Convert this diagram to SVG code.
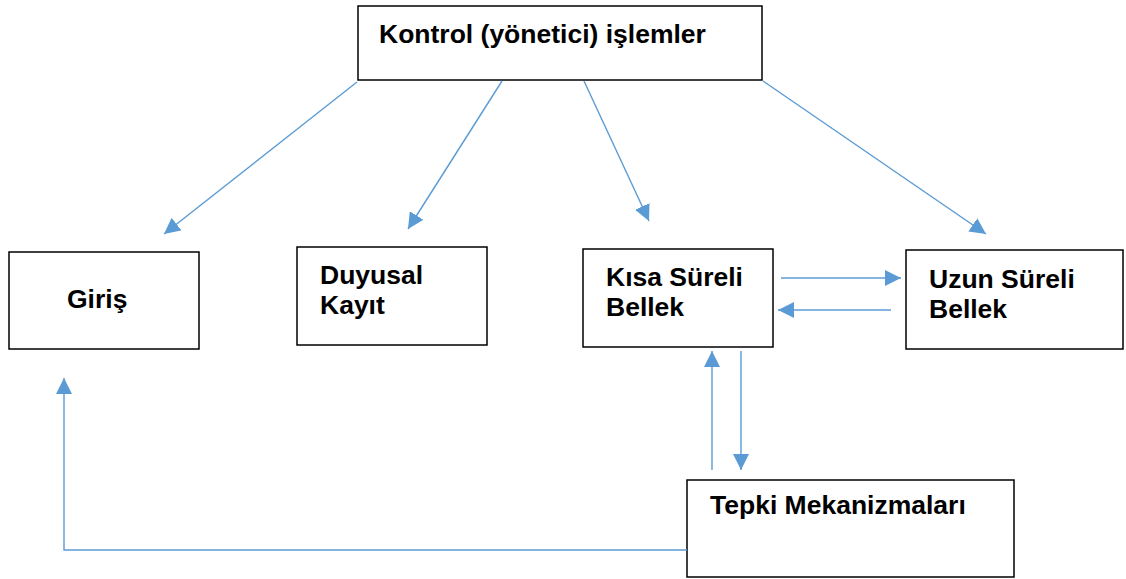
<svg xmlns="http://www.w3.org/2000/svg" width="1126" height="579" viewBox="0 0 1126 579">
<style>
.box{fill:#fff;stroke:#000;stroke-width:1.5}
.t{font-family:"Liberation Sans",Arial,sans-serif;font-weight:bold;font-size:26.5px;fill:#000}
.c{fill:none;stroke:#5B9BD5;stroke-width:1.4}
</style>
<defs>
<marker id="ah" markerUnits="userSpaceOnUse" markerWidth="16" markerHeight="16" viewBox="0 0 16 16" refX="16" refY="8" orient="auto">
<path d="M0,0 L16,8 L0,16 Z" fill="#5B9BD5"/>
</marker>
</defs>
<rect width="1126" height="579" fill="#fff"/>
<g id="kontrol"><rect class="box" x="358" y="6" width="404" height="74"/><text class="t" x="379" y="43">Kontrol (yönetici) işlemler</text></g>
<g id="giris"><rect class="box" x="9" y="252" width="190" height="97"/><text class="t" x="67" y="308">Giriş</text></g>
<g id="duyusal"><rect class="box" x="297" y="247" width="190" height="98"/><text class="t" x="320" y="284">Duyusal</text><text class="t" x="320" y="314">Kayıt</text></g>
<g id="kisa"><rect class="box" x="583" y="249" width="190" height="98"/><text class="t" x="606" y="286">Kısa Süreli</text><text class="t" x="606" y="316">Bellek</text></g>
<g id="uzun"><rect class="box" x="906" y="250" width="217" height="99"/><text class="t" x="929" y="288">Uzun Süreli</text><text class="t" x="929" y="318">Bellek</text></g>
<g id="tepki"><rect class="box" x="687" y="480" width="327" height="97"/><text class="t" x="710" y="514">Tepki Mekanizmaları</text></g>
<g id="connectors">
<line class="c" x1="357" y1="82" x2="164" y2="234" marker-end="url(#ah)"/>
<line class="c" x1="502" y1="81" x2="408" y2="229" marker-end="url(#ah)"/>
<line class="c" x1="584" y1="81" x2="649" y2="221" marker-end="url(#ah)"/>
<line class="c" x1="763" y1="81" x2="986" y2="234" marker-end="url(#ah)"/>
<line class="c" x1="781" y1="278" x2="901" y2="278" marker-end="url(#ah)"/>
<line class="c" x1="891" y1="310" x2="778" y2="310" marker-end="url(#ah)"/>
<line class="c" x1="712" y1="470" x2="712" y2="351" marker-end="url(#ah)"/>
<line class="c" x1="741" y1="351" x2="741" y2="470" marker-end="url(#ah)"/>
<polyline class="c" points="687,550 64,550 64,378" marker-end="url(#ah)"/>
</g>
</svg>
